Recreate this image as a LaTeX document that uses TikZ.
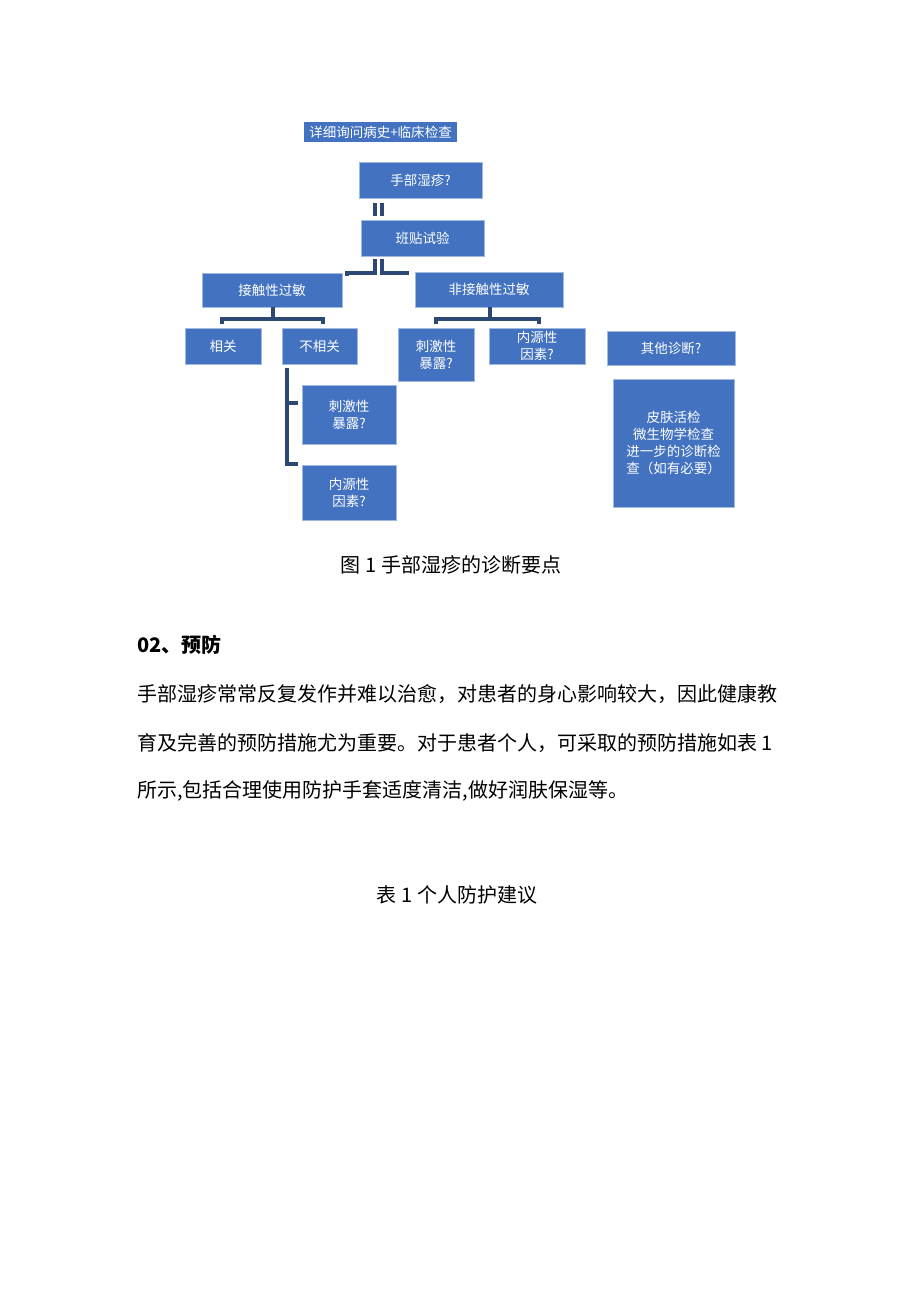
\documentclass[tikz,border=0pt]{standalone}
\usepackage{fontspec}
\newfontfamily\cjk{Noto Sans CJK SC}
\definecolor{boxblue}{RGB}{66,114,192}
\definecolor{boxedge}{RGB}{160,185,225}
\definecolor{connblue}{RGB}{46,72,118}
\tikzset{
  bx/.style={fill=boxblue, draw=boxedge, line width=0.8pt, text=white, inner sep=0pt, align=center,
             font=\cjk\fontsize{13.5}{17}\selectfont},
  conn/.style={draw=connblue, line width=3.4pt},
  body/.style={anchor=west, inner sep=0pt, font=\cjk\fontsize{20}{24}\selectfont},
}
\begin{document}
\begin{tikzpicture}[x=1pt,y=-1pt]
\useasboundingbox (0,0) rectangle (920,1301);
\fill[white] (0,0) rectangle (920,1301);

% boxes
\node[bx, draw=none, minimum width=153pt, minimum height=20pt] (hist) at (380.5,132) {详细询问病史+临床检查};
\node[bx, minimum width=123pt, minimum height=36pt] (hand) at (420.5,180) {手部湿疹?};
\node[bx, minimum width=123pt, minimum height=36pt] (patch) at (422.5,238) {班贴试验};
\node[bx, minimum width=140pt, minimum height=34pt] (ct) at (272,290) {接触性过敏};
\node[bx, minimum width=148pt, minimum height=35pt] (nct) at (489,289.5) {非接触性过敏};
\node[bx, minimum width=76pt, minimum height=36pt] (rel) at (223,346) {相关};
\node[bx, minimum width=75pt, minimum height=36pt] (nrel) at (319.5,346) {不相关};
\node[bx, minimum width=76pt, minimum height=53pt] (irr1) at (436,354.5) {刺激性\\暴露?};
\node[bx, minimum width=96pt, minimum height=36pt] (endo1) at (537,346) {内源性\\因素?};
\node[bx, minimum width=128pt, minimum height=34pt] (other) at (671,348) {其他诊断?};
\node[bx, minimum width=121pt, minimum height=128pt] (big) at (673.5,443) {皮肤活检\\微生物学检查\\进一步的诊断检\\查（如有必要）};
\node[bx, minimum width=94pt, minimum height=59pt] (irr2) at (349,414.5) {刺激性\\暴露?};
\node[bx, minimum width=94pt, minimum height=55pt] (endo2) at (349,492.5) {内源性\\因素?};

% connector joints
\coordinate (a1) at (375,203); \coordinate (a2) at (375,216);
\coordinate (a3) at (382,203); \coordinate (a4) at (382,216);
\coordinate (c1) at (375,259); \coordinate (c2) at (382,259);
\coordinate (cl) at (347,273); \coordinate (cr) at (409,273);
\coordinate (k1) at (273,319); \coordinate (kl) at (222,324); \coordinate (kr) at (323,324);
\coordinate (m1) at (490,319); \coordinate (ml) at (436,324); \coordinate (mr) at (539,324);
\coordinate (v1) at (287,368); \coordinate (v2) at (287,464);
\coordinate (t1) at (298,403); \coordinate (t2) at (298,464);

\draw[conn] (a1) -- (a2);
\draw[conn] (a3) -- (a4);
\draw[conn] (c1) |- (cl) -- ++(0,3);
\draw[conn] (c2) |- (cr);
\draw[conn] (ct.south -| k1) -- (k1);
\draw[conn] (kl) |- (k1) -| (kr);
\draw[conn] (nct.south -| m1) -- (m1);
\draw[conn] (ml) |- (m1) -| (mr);
\draw[conn] (v1) -- (v2) -- (t2);
\draw[conn] (v1 |- t1) -- (t1);

% caption and text
\node[inner sep=0pt, font=\cjk\fontsize{20}{24}\selectfont] (cap) at (451,565) {图 1 手部湿疹的诊断要点};
\node[body, font=\cjk\bfseries\fontsize{20}{24}\selectfont] (head) at (137,645) {02、预防};
\node[body] (l1) at (137,694) {手部湿疹常常反复发作并难以治愈，对患者的身心影响较大，因此健康教};
\node[body] (l2) at (137,743) {育及完善的预防措施尤为重要。对于患者个人，可采取的预防措施如表 1};
\node[body] (l3) at (137,791) {所示,包括合理使用防护手套适度清洁,做好润肤保湿等。};
\node[inner sep=0pt, font=\cjk\fontsize{20}{24}\selectfont] (tab) at (457,895) {表 1 个人防护建议};
\end{tikzpicture}
\end{document}
